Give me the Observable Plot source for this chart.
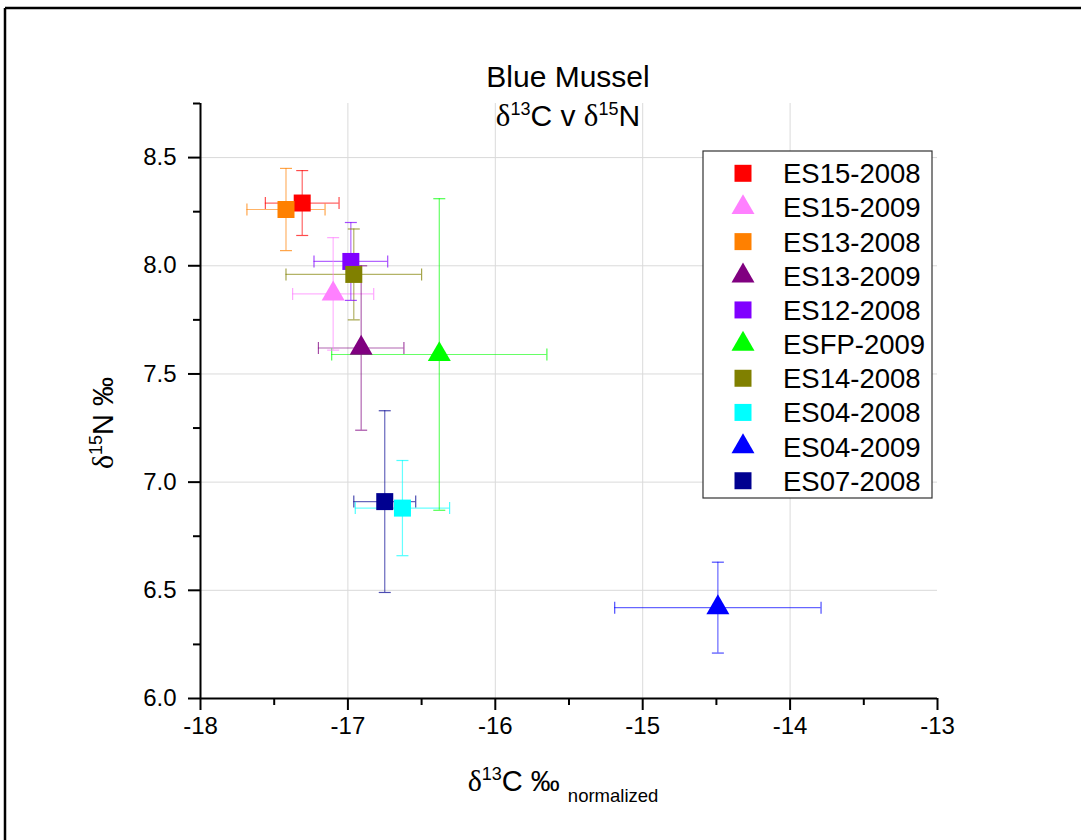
<!DOCTYPE html>
<html><head><meta charset="utf-8">
<script src="https://cdn.jsdelivr.net/npm/d3@7"></script>
<script src="https://cdn.jsdelivr.net/npm/@observablehq/plot@0.6"></script>
<style>
html,body{margin:0;padding:0;background:#fff;overflow:hidden}
#chart{width:1081px;height:840px}
</style>
</head><body><div id="chart"></div>
<script>
// ---- data ----
const names   = ["ES15-2008","ES15-2009","ES13-2008","ES13-2009","ES12-2008","ESFP-2009","ES14-2008","ES04-2008","ES04-2009","ES07-2008"];
const d13C    = [-17.31, -17.10, -17.42, -16.91, -16.98, -16.38, -16.96, -16.63, -14.49, -16.75];
const d15N    = [8.29, 7.87, 8.26, 7.62, 8.02, 7.59, 7.96, 6.88, 6.42, 6.91];
const d13CErr = [0.25, 0.275, 0.265, 0.29, 0.25, 0.73, 0.46, 0.32, 0.70, 0.21];
const d15NErr = [0.15, 0.26, 0.19, 0.38, 0.18, 0.72, 0.21, 0.22, 0.21, 0.42];
const colors  = ["#ff0000","#ff80ff","#ff8000","#800080","#8000ff","#00ff00","#808000","#00ffff","#0000ff","#000090"];
const shapes  = ["square","triangle","square","triangle","square","triangle","square","square","triangle","square"];
const xMajor  = [-18,-17,-16,-15,-14,-13];
const xMinor  = [-17.5,-16.5,-15.5,-14.5,-13.5];
const yMajor  = [6.0,6.5,7.0,7.5,8.0,8.5];
const yMinor  = [6.25,6.75,7.25,7.75,8.25,8.75];
const xGrid   = [-17,-16,-15,-14];
const yGrid   = [6.5,7.0,7.5,8.0,8.5];

const data = names.map((n,i)=>({name:n,x:d13C[i],y:d15N[i],xe:d13CErr[i],ye:d15NErr[i],color:colors[i],shape:shapes[i]}));

const SANS = "'Liberation Sans', Arial, Helvetica, sans-serif";
const SERIF = "'Liberation Serif', 'Times New Roman', serif";
const R = {square: Math.sqrt(289/Math.PI), triangle: Math.sqrt(229/Math.PI)};

const capV = {draw(ctx){ctx.moveTo(0,-6);ctx.lineTo(0,6);}};
const capH = {draw(ctx){ctx.moveTo(-6,0);ctx.lineTo(6,0);}};

const marks = [
  Plot.gridX({ticks: xGrid, stroke:"#dadada", strokeOpacity:1, strokeWidth:1}),
  Plot.gridY({ticks: yGrid, stroke:"#dadada", strokeOpacity:1, strokeWidth:1}),
  // error bars
  Plot.ruleY(data, {y:"y", x1:d=>d.x-d.xe, x2:d=>d.x+d.xe, stroke:"color", strokeOpacity:0.6, strokeWidth:1.2}),
  Plot.ruleX(data, {x:"x", y1:d=>d.y-d.ye, y2:d=>d.y+d.ye, stroke:"color", strokeOpacity:0.6, strokeWidth:1.2}),
  Plot.dot(data, {x:d=>d.x-d.xe, y:"y", symbol:capV, r:6, fill:"none", stroke:"color", strokeOpacity:0.7, strokeWidth:1.2}),
  Plot.dot(data, {x:d=>d.x+d.xe, y:"y", symbol:capV, r:6, fill:"none", stroke:"color", strokeOpacity:0.7, strokeWidth:1.2}),
  Plot.dot(data, {x:"x", y:d=>d.y-d.ye, symbol:capH, r:6, fill:"none", stroke:"color", strokeOpacity:0.7, strokeWidth:1.2}),
  Plot.dot(data, {x:"x", y:d=>d.y+d.ye, symbol:capH, r:6, fill:"none", stroke:"color", strokeOpacity:0.7, strokeWidth:1.2}),
  ...data.map(d => Plot.dot([d], {x:"x", y:"y", symbol:d.shape, r:R[d.shape], fill:"color", stroke:"none"})),
  // axes
  Plot.axisY({ticks:yMajor, tickSize:12, tickPadding:12, tickFormat:d3.format(".1f"), fontSize:24, strokeWidth:2, label:null}),
  Plot.axisY({ticks:yMinor, tickSize:7, tickFormat:()=>"", strokeWidth:2, label:null}),
  Plot.axisX({ticks:xMajor, tickSize:12, tickPadding:6, tickFormat:d=>String(d), fontSize:24, strokeWidth:2, label:null}),
  Plot.axisX({ticks:xMinor, tickSize:7, tickFormat:()=>"", strokeWidth:2, label:null}),
  Plot.ruleX([-18], {strokeWidth:2, stroke:"#000"}),
  Plot.ruleY([6], {strokeWidth:2, stroke:"#000"})
];

const chart = Plot.plot({
  width:1081, height:840,
  marginLeft:200, marginRight:144, marginTop:103, marginBottom:142,
  x:{domain:[-18,-13]},
  y:{domain:[6,8.75]},
  color:{type:"identity"},
  style:{fontFamily:SANS, color:"#000", background:"#fff"},
  marks
});
document.getElementById("chart").appendChild(chart);

// ---- annotations ----
const svg = d3.select(chart);
svg.append("line").attr("x1",5).attr("y1",8).attr("x2",1081).attr("y2",8).attr("stroke","#000").attr("stroke-width",2.5);
svg.append("line").attr("x1",5).attr("y1",8).attr("x2",5).attr("y2",840).attr("stroke","#000").attr("stroke-width",2.5);

function rich(g, x, y, parts, opts={}) {
  const t = g.append("text").attr("x",x).attr("y",y)
    .attr("text-anchor", opts.anchor||"middle").attr("fill","#000")
    .attr("font-family",SANS);
  if (opts.transform) t.attr("transform", opts.transform);
  let cur = 0;
  for (const p of parts) {
    const s = t.append("tspan").text(p.t).attr("font-size", p.size)
      .attr("font-family", p.font||SANS);
    const shift = p.shift||0;
    s.attr("dy", shift - cur);
    cur = shift;
  }
  return t;
}

rich(svg, 568, 87, [{t:"Blue Mussel", size:30}]);
rich(svg, 568, 126, [
  {t:"δ", size:31, font:SERIF},{t:"13", size:18, shift:-11},{t:"C v ", size:30},
  {t:"δ", size:31, font:SERIF},{t:"15", size:18, shift:-11},{t:"N", size:30}
]);
rich(svg, 563, 791, [
  {t:"δ", size:30, font:SERIF},{t:"13", size:18, shift:-11},{t:"C ‰ ", size:29},
  {t:"normalized", size:18.5, shift:11}
]);
rich(svg, 0, 0, [
  {t:"δ", size:30, font:SERIF},{t:"15", size:18, shift:-11},{t:"N ‰", size:29}
], {transform:"translate(113,423) rotate(-90)"});

// legend
const lg = svg.append("g");
lg.append("rect").attr("x",703).attr("y",151).attr("width",229).attr("height",347)
  .attr("fill","#fff").attr("stroke","#333").attr("stroke-width",1.2);
data.forEach((d,i)=>{
  const cy = 173.3 + i*34.16;
  const size = d.shape==="square" ? 289 : 229;
  lg.append("path").attr("d", d3.symbol(d.shape==="square"?d3.symbolSquare:d3.symbolTriangle, size)())
    .attr("transform",`translate(743,${cy})`).attr("fill",d.color);
  lg.append("text").attr("x",783).attr("y",cy+10).attr("font-size",27.5).attr("font-family",SANS)
    .attr("text-anchor","start").attr("fill","#000").text(d.name);
});
</script>
</body></html>
